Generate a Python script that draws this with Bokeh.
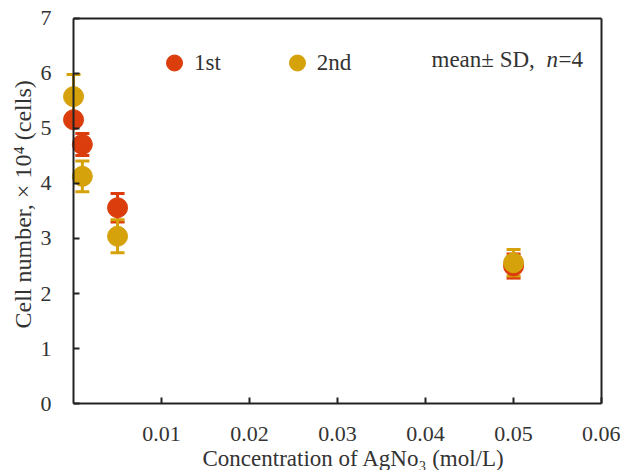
import math
from bokeh.plotting import figure
from bokeh.models import (ColumnDataSource, Whisker, TeeHead, Legend, LegendItem,
                          LinearAxis, FixedTicker, Label, Range1d)
from bokeh.embed import file_html
from bokeh.resources import INLINE

# ---- data ----
conc = [0.0, 0.001, 0.005, 0.05]
first_mean = [5.16, 4.71, 3.56, 2.50]
first_sd = [0.10, 0.20, 0.26, 0.22]
second_mean = [5.58, 4.13, 3.04, 2.56]
second_sd = [0.40, 0.28, 0.30, 0.24]
x_ticks = [0.01, 0.02, 0.03, 0.04, 0.05, 0.06]
y_ticks = [0, 1, 2, 3, 4, 5, 6, 7]

RED = "#DB3E0C"
GOLD = "#D6A20C"
FONT = "Liberation Serif"
INK = "#222222"
TXT = "#333333"

def src(mean, sd):
    return ColumnDataSource(dict(
        x=conc, y=mean,
        upper=[m + s for m, s in zip(mean, sd)],
        lower=[m - s for m, s in zip(mean, sd)]))

s1 = src(first_mean, first_sd)
s2 = src(second_mean, second_sd)

p = figure(frame_width=620, frame_height=470,
           x_range=Range1d(-0.0083, 0.06215), y_range=Range1d(-1.218, 7.327),
           output_backend="svg", toolbar_location=None,
           min_border_left=0, min_border_top=0, min_border_right=0,
           min_border_bottom=0, x_axis_location=None, y_axis_location=None)
p.outline_line_color = None
p.grid.visible = False

# frame border lines (top / right)
top = LinearAxis(ticker=FixedTicker(ticks=[]), bounds=(0, 0.06), fixed_location=7)
rgt = LinearAxis(ticker=FixedTicker(ticks=[]), bounds=(0, 7), fixed_location=0.06)
for a in (top, rgt):
    a.axis_line_width = 2
    a.axis_line_color = INK
    a.major_tick_in = 0
    a.major_tick_out = 0
    a.major_label_standoff = 0
    a.major_label_text_color = None
    a.minor_tick_line_color = None
p.add_layout(top, "above")
p.add_layout(rgt, "right")

# x axis drawn at y = 0, y axis drawn at x = 0
xax = LinearAxis(ticker=FixedTicker(ticks=x_ticks), bounds=(0, 0.06), fixed_location=0)
yax = LinearAxis(ticker=FixedTicker(ticks=y_ticks), bounds=(0, 7), fixed_location=0)
for ax in (xax, yax):
    ax.axis_line_width = 2
    ax.axis_line_color = INK
    ax.major_tick_line_width = 2
    ax.major_tick_line_color = INK
    ax.minor_tick_line_color = None
    ax.major_tick_in = 0
    ax.major_tick_out = 6
    ax.major_label_text_font = FONT
    ax.major_label_text_font_size = "22px"
    ax.major_label_text_color = TXT
xax.major_label_standoff = -43
yax.major_label_standoff = -39
p.add_layout(xax, "above")
p.add_layout(yax, "right")

# error bars
for s, c in ((s1, RED), (s2, GOLD)):
    w = Whisker(source=s, base="x", upper="upper", lower="lower",
                dimension="height", line_color=c, line_width=3,
                upper_head=TeeHead(size=14, line_color=c, line_width=3),
                lower_head=TeeHead(size=14, line_color=c, line_width=3))
    p.add_layout(w)

r1 = p.scatter("x", "y", source=s1, size=20, fill_color=RED, line_color=RED)
r2 = p.scatter("x", "y", source=s2, size=20, fill_color=GOLD, line_color=GOLD)

legend = Legend(items=[LegendItem(label="1st", renderers=[r1]),
                       LegendItem(label="2nd", renderers=[r2])],
                orientation="horizontal", location=(154, 385),
                glyph_width=40, glyph_height=45, label_standoff=0, spacing=56,
                padding=0, margin=0, border_line_color=None,
                background_fill_alpha=0,
                label_text_font=FONT, label_text_font_size="23px",
                label_text_color=TXT)
p.add_layout(legend, "center")

def lab(text, x, y, style="normal", angle=0.0, align="left", base="alphabetic", size="23px"):
    p.add_layout(Label(x=x, y=y, x_units="screen", y_units="data", text=text,
                       text_font=FONT, text_font_size=size, text_font_style=style,
                       text_color=TXT, angle=angle, text_align=align,
                       text_baseline=base))

lab("mean\u00b1 SD,", 431, 6.26)
lab("n", 546, 6.26, style="italic")
lab("=4", 558, 6.26)
lab("Cell number, \u00d7 10\u2074 (cells)", 22, 3.62, angle=math.pi / 2,
    align="center", base="middle", size="24px")
lab("Concentration of AgNo\u2083 (mol/L)", 202, -1.0)

open("out.html", "w").write(file_html(p, INLINE))
